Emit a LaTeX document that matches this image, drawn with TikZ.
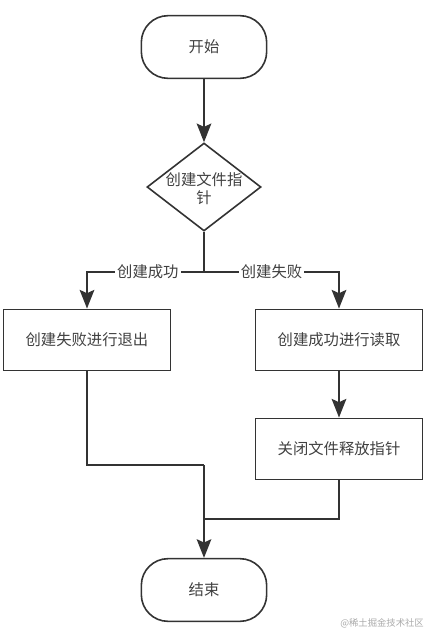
\documentclass[tikz,border=0pt]{standalone}
\usepackage{fontspec}
\setmainfont{Noto Sans CJK SC}
\usetikzlibrary{arrows.meta, shapes.geometric, positioning, calc}
\definecolor{flowline}{RGB}{51,51,51}
\definecolor{flowtext}{RGB}{64,64,64}
\definecolor{markgray}{RGB}{170,170,170}

\begin{document}
\begin{tikzpicture}[x=0.75pt, y=-0.75pt, font=\fontsize{11.5pt}{13.5pt}\selectfont,
    terminal/.style={draw=flowline, line width=1.2pt, rounded corners=20pt, minimum width=94pt, minimum height=47pt, text=flowtext},
    procbox/.style={draw=flowline, line width=1.2pt, minimum width=125pt, minimum height=46pt, text=flowtext},
    decision/.style={draw=flowline, line width=1.2pt, diamond, minimum width=85.5pt, minimum height=66pt, inner sep=0pt},
    flow/.style={draw=flowline, line width=1.2pt},
    flowarrow/.style={flow, -{Stealth[length=14pt, width=11pt, inset=2.5pt]}},
    branch/.style={fill=white, text=flowtext, inner sep=1.5pt}]
        \useasboundingbox (0,0) rectangle (438,643);
        % blocks
        \node[terminal] (start) at (204,47) {开始};
        \node[decision] (dec)   at (204,187) {};
        \node[text=flowtext, align=center] (dectext) at (204,189) {创建文件指\\针};
        \node[procbox]  (fail)  at (87,340) {创建失败进行退出};
        \node[procbox]  (read)  at (339,340) {创建成功进行读取};
        \node[procbox]  (close) at (339,449) {关闭文件释放指针};
        \node[terminal] (stop)  at (204,590) {结束};
        \coordinate (split) at (204,272);
        \coordinate (join)  at (204,465);
        \coordinate (merge) at (204,519);
        % connectors
        \draw[flowarrow] (start) -- (dec);
        \draw[flow] (dec.south) -- (split);
        \draw[flowarrow] (split) -| node[pos=0.24, branch]{创建成功} (fail.north);
        \draw[flowarrow] (split) -| node[pos=0.25, branch]{创建失败} (read.north);
        \draw[flowarrow] (read) -- (close);
        \draw[flow] (fail.south) |- (join);
        \draw[flow] (close.south) |- (merge);
        \draw[flowarrow] (join) -- (stop.north);
        \node[text=markgray, font=\fontsize{7pt}{8pt}\selectfont] (mark) at (382,623) {@稀土掘金技术社区};
\end{tikzpicture}
\end{document}
